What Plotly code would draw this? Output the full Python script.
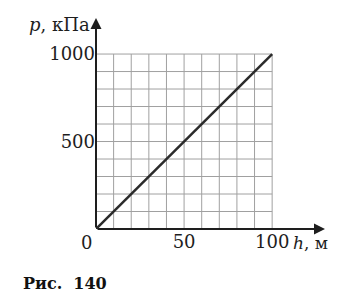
import plotly.graph_objects as go

# Data
h_vals = [0, 100]          # h, м
p_vals = [0, 1000]         # p, кПа
x_tick_vals = [50, 100]
x_tick_text = ["50", "100"]
y_tick_vals = [500, 1000]
y_tick_text = ["500", "1000"]
x_grid = [10, 20, 30, 40, 50, 60, 70, 80, 90, 100]
y_grid = [100, 200, 300, 400, 500, 600, 700, 800, 900, 1000]

X_MAX = 130
Y_MAX = 1206

FONT = "DejaVu Serif"
INK = "#1e1e1e"
GRID = "#a0a0a0"

fig = go.Figure()

shapes = []
for gx in x_grid:
    shapes.append(dict(type="line", xref="x", yref="y", x0=gx, x1=gx, y0=0, y1=max(p_vals),
                       line=dict(color=GRID, width=1), layer="below"))
for gy in y_grid:
    shapes.append(dict(type="line", xref="x", yref="y", x0=0, x1=max(h_vals), y0=gy, y1=gy,
                       line=dict(color=GRID, width=1), layer="below"))

fig.add_trace(go.Scatter(x=h_vals, y=p_vals, mode="lines",
                         line=dict(color="#2b2b2b", width=2.5), showlegend=False,
                         hoverinfo="skip"))

annotations = [
    # axes with arrows
    dict(x=0, y=Y_MAX, ax=0, ay=0, xref="x", yref="y", axref="x", ayref="y",
         showarrow=True, arrowhead=2, arrowsize=1.1, arrowwidth=2, arrowcolor=INK, text=""),
    dict(x=X_MAX, y=0, ax=0, ay=0, xref="x", yref="y", axref="x", ayref="y",
         showarrow=True, arrowhead=2, arrowsize=1.1, arrowwidth=2, arrowcolor=INK, text=""),
    # origin label
    dict(x=0, y=0, xref="x", yref="y", text="0", showarrow=False,
         xanchor="right", yanchor="top", xshift=-2, yshift=-1,
         font=dict(family=FONT, size=18, color=INK)),
    # axis titles
    dict(x=0, y=Y_MAX, xref="x", yref="y", text="<i>p</i>, кПа", showarrow=False,
         xanchor="right", yanchor="middle", xshift=-4, yshift=-6,
         font=dict(family=FONT, size=18, color=INK)),
    dict(x=100, y=0, xref="x", yref="y", text="<i>h</i>, м", showarrow=False,
         xanchor="left", yanchor="top", xshift=19, yshift=-2,
         font=dict(family=FONT, size=17, color=INK)),
    # caption
    dict(x=0, y=0, xref="paper", yref="paper", text="<b>Рис.  140</b>", showarrow=False,
         xanchor="left", yanchor="middle", xshift=-75, yshift=-54,
         font=dict(family=FONT, size=16, color="#111111")),
]

fig.update_layout(
    width=343, height=295,
    margin=dict(l=96, r=18, t=18, b=66),
    paper_bgcolor="white", plot_bgcolor="white",
    shapes=shapes, annotations=annotations,
    xaxis=dict(range=[0, X_MAX], showgrid=False, zeroline=False, showline=False,
               tickmode="array", tickvals=x_tick_vals, ticktext=x_tick_text,
               ticks="", tickfont=dict(family=FONT, size=18, color=INK), fixedrange=True),
    yaxis=dict(range=[0, Y_MAX], showgrid=False, zeroline=False, showline=False,
               tickmode="array", tickvals=y_tick_vals, ticktext=y_tick_text,
               ticks="", tickfont=dict(family=FONT, size=18, color=INK), fixedrange=True),
    showlegend=False,
)

fig.write_html("out.html", config={"displayModeBar": False})
